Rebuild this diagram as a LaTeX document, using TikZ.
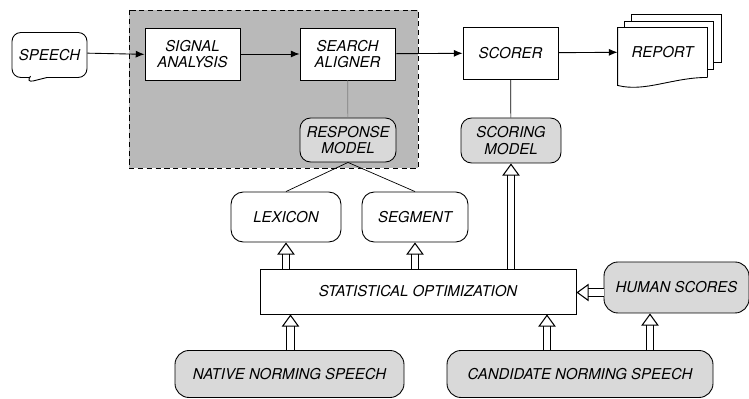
\documentclass[tikz,border=0pt]{standalone}
\usepackage{fontspec}
\setmainfont{TeX Gyre Heros}
\usetikzlibrary{arrows.meta,calc,shapes.callouts}

\begin{document}
\begin{tikzpicture}[
  font=\fontsize{8.5}{9.6}\selectfont\itshape,
  every node/.style={align=center, line width=0.5pt},
  blk/.style={draw, minimum width=1.9cm, minimum height=1.04cm},
  model/.style={draw, rounded corners=6pt, fill=gray!30},
  store/.style={draw, rounded corners=7pt},
  link/.style={line width=0.5pt, -{Latex[length=5pt,width=4pt]}},
  tie/.style={line width=0.4pt},
  hollow/.style={double, double distance=3.5pt, line width=0.6pt, -{Triangle[open,length=7pt,width=10pt]}}
  ]
  \useasboundingbox (0,0) rectangle (14.98,-7.98);
  % shaded front end
  \draw[densely dashed, line width=0.5pt, fill=gray!55] (2.58,-0.2) rectangle (8.36,-3.36);

  \node[draw, rectangle callout, rounded corners=5pt, minimum width=1.5cm, minimum height=0.9cm,
        callout pointer width=0.35cm, callout absolute pointer={(0.5,-1.66)}] (speech) at (0.99,-1.1) {SPEECH};
  \node[blk, fill=white] (analysis) at (3.85,-1.08) {SIGNAL\\ANALYSIS};
  \node[blk, fill=white] (aligner) at (6.95,-1.08) {SEARCH\\ALIGNER};
  \node[model, minimum width=1.92cm, minimum height=0.88cm] (respmodel) at (6.96,-2.8) {RESPONSE\\MODEL};
  \node[blk] (scorer) at (10.21,-1.06) {SCORER};
  \node[minimum width=1.78cm, minimum height=0.96cm] (report) at (13.25,-1.04) {REPORT};
  \node[model, minimum width=2.0cm, minimum height=0.9cm] (scoringmodel) at (10.22,-2.81) {SCORING\\MODEL};

  \node[store, minimum width=2.2cm, minimum height=1.0cm] (lexicon) at (5.72,-4.34) {LEXICON};
  \node[store, minimum width=2.12cm, minimum height=1.0cm] (segment) at (8.3,-4.34) {SEGMENT};
  \node[draw, minimum width=6.32cm, minimum height=0.9cm] (statopt) at (8.36,-5.83) {STATISTICAL OPTIMIZATION};
  \node[model, rounded corners=8pt, minimum width=2.9cm, minimum height=1.02cm] (human) at (13.53,-5.75) {HUMAN SCORES};
  \node[model, rounded corners=8pt, minimum width=4.58cm, minimum height=0.94cm] (native) at (5.79,-7.48) {NATIVE NORMING SPEECH};
  \node[model, rounded corners=8pt, minimum width=5.32cm, minimum height=0.94cm] (candidate) at (11.6,-7.48) {CANDIDATE NORMING SPEECH};

  % report pages
  \draw[line width=0.5pt] ($(report.south east)+(0,-0.02)$) -- (report.north east) -- (report.north west)
    -- ($(report.south west)+(0,-0.18)$) .. controls ($(report.south west)+(0.55,-0.32)$) and ($(report.south east)+(-0.7,-0.02)$) .. ($(report.south east)+(0,-0.02)$);
  \draw[line width=0.5pt] ($(report.north west)+(0.14,0)$) |- ($(report.north east)+(0.12,0.12)$) -- ++(0,-0.96) -- ++(-0.12,0);
  \draw[line width=0.5pt] ($(report.north west)+(0.28,0.12)$) |- ($(report.north east)+(0.28,0.26)$) -- ++(0,-0.96) -- ++(-0.16,0);

  \draw[link] (speech) -- (analysis);
  \draw[link] (analysis) -- (aligner);
  \draw[link] (aligner) -- (scorer);
  \draw[link] (scorer) -- (report);
  \draw[tie, gray] (aligner) -- (respmodel);
  \draw[tie] (scorer) -- (scoringmodel);
  \draw[tie] (respmodel.south) -- (lexicon.north);
  \draw[tie] (respmodel.south) -- (segment.north);

  \draw[hollow] (statopt.north -| lexicon) -- (lexicon);
  \draw[hollow] (statopt.north -| segment) -- (segment);
  \draw[hollow] (statopt.north -| scoringmodel) -- (scoringmodel);
  \coordinate (natup) at ($(native.north)+(0.02,0)$);
  \coordinate (natin) at (natup |- statopt.south);
  \draw[hollow] (natup) -- (natin);
  \coordinate (candup) at ($(candidate.north)+(-0.66,0)$);
  \coordinate (candin) at (candup |- statopt.south);
  \draw[hollow] (candup) -- (candin);
  \coordinate (humup) at ($(candidate.north)+(1.4,0)$);
  \coordinate (humin) at (humup |- human.south);
  \draw[hollow] (humup) -- (humin);
  \coordinate (humout) at ($(human.west |- statopt.east)+(0,-0.02)$);
  \coordinate (optin) at (statopt.east |- humout);
  \draw[hollow] (humout) -- (optin);
\end{tikzpicture}
\end{document}
